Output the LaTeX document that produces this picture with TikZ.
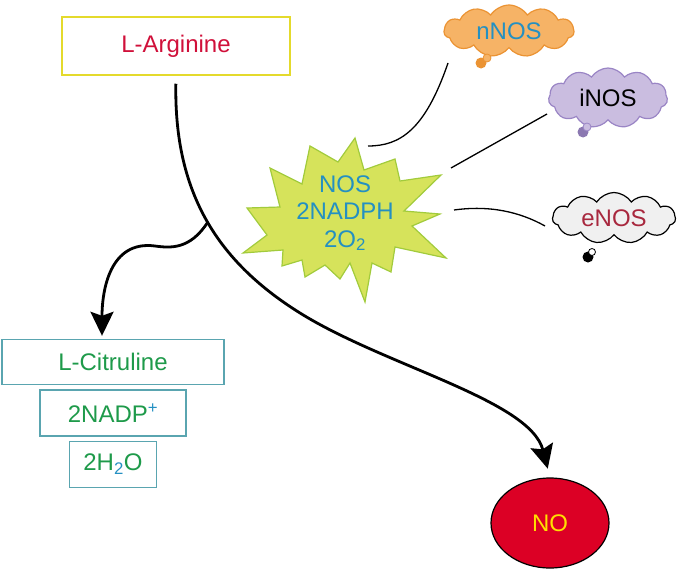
\documentclass[tikz,border=0pt]{standalone}
\usepackage{fontspec}
\setmainfont{Liberation Sans}
\usetikzlibrary{positioning,arrows.meta,shapes.geometric,shapes.symbols}

\definecolor{argred}{HTML}{D0103A}
\definecolor{argyellow}{HTML}{E4DA2C}
\definecolor{prodteal}{HTML}{5AA5B0}
\definecolor{prodgreen}{HTML}{1E9A4A}
\definecolor{nosblue}{HTML}{2490C2}
\definecolor{burstfill}{HTML}{D6E35B}
\definecolor{burstline}{HTML}{A2CB3C}
\definecolor{nfill}{HTML}{F6B366}
\definecolor{nline}{HTML}{EB9333}
\definecolor{ifill}{HTML}{CABDE0}
\definecolor{iline}{HTML}{9A85C5}
\definecolor{efill}{HTML}{F0F0F0}
\definecolor{etext}{HTML}{A8283E}
\definecolor{nored}{HTML}{DC0025}
\definecolor{noyellow}{HTML}{FFE000}

\tikzset{
  substrate/.style={draw=argyellow,line width=1.5pt,minimum width=228pt,minimum height=58pt,text=argred},
  product/.style={draw=prodteal,line width=1.4pt,text=prodgreen,minimum height=46pt,inner sep=0pt},
  isoform/.style={cloud,cloud puffs=11,cloud puff arc=115,cloud ignores aspect,inner sep=0pt,line width=1.2pt},
  flow/.style={line width=2.8pt,-{Stealth[length=24pt,width=23pt,inset=4pt]}},
  link/.style={line width=1.3pt}
}

\begin{document}
\begin{tikzpicture}[x=1pt,y=-1pt]
\fontsize{24}{27.5}\selectfont
\useasboundingbox (0,0) rectangle (677,570);
% substrate and products
\node[substrate] (arg) at (176,46) {L-Arginine};
\node[product,minimum width=222pt,minimum height=45pt] (cit) at (113,362) {L-Citruline};
\node[product,minimum width=146pt,below=4pt of cit] (nadp) {2NADP\textsuperscript{\textcolor{nosblue}{+}}};
\node[product,minimum width=87pt,below=4pt of nadp] (water) {2H\textsubscript{\textcolor{nosblue}{2}}O};
\node[ellipse,draw,line width=1.2pt,fill=nored,text=noyellow,minimum width=118pt,minimum height=90pt,inner sep=0pt] (no) at (550,523) {NO};
% enzyme burst
\filldraw[fill=burstfill,draw=burstline,line width=1.2pt]
  (355,138) -- (364,170) -- (395,159) -- (400,181) -- (441,175) -- (404,211)
  -- (440,214) -- (412,226) -- (446,258) -- (395,247) -- (391,272) -- (372,263)
  -- (365,302) -- (350,263) -- (340,279) -- (325,265) -- (305,277) -- (302,260)
  -- (282,266) -- (283,250) -- (243,253) -- (267,235) -- (247,208) -- (280,207)
  -- (270,168) -- (302,184) -- (310,146) -- (338,162) -- cycle;
\node[text=nosblue,align=center,inner sep=0pt] (nos) at (345,213) {NOS\\2NADPH\\2O\textsubscript{2}};
% isoforms
\node[isoform,fill=nfill,draw=nline,text=nosblue,minimum width=130pt,minimum height=52pt] (nnos) at (509,31) {nNOS};
\fill[nline] (481,63) circle (5.5pt);
\filldraw[fill=nfill,draw=nline,line width=0.8pt] (487,58) circle (4pt);
\node[isoform,fill=ifill,draw=iline,minimum width=119pt,minimum height=60pt] (inos) at (608,98) {iNOS};
\fill[iline!90!black] (583,132) circle (5.5pt);
\filldraw[fill=ifill,draw=iline,line width=0.8pt] (587,127) circle (4pt);
\node[isoform,fill=efill,draw=black,text=etext,minimum width=123pt,minimum height=51pt] (enos) at (614,218) {eNOS};
\fill (588,257) circle (5.5pt);
\filldraw[fill=white,draw=black,line width=0.8pt] (592,252) circle (3.5pt);
% isoform links
\coordinate (nnosend) at (448,63);
\coordinate (nosn) at (368,146);
\coordinate (inosend) at (547,114);
\coordinate (nosi) at (451,168);
\coordinate (enosend) at (545,226);
\coordinate (nose) at (454,210);
\draw[link] (nnosend) .. controls (425,130) and (400,146) .. (nosn);
\draw[link] (inosend) -- (nosi);
\draw[link] (nose) .. controls (490,205) and (520,212) .. (enosend);
% reaction
\draw[flow,shorten <=8pt,shorten >=9pt] (arg.south) .. controls (174,190) and (215,260) .. (300,313)
  coordinate[pos=0.52] (split)
  .. controls (385,366) and (530,400) .. (no.north);
\draw[flow,shorten >=3pt] (split) .. controls (190,250) and (170,248) .. (155,246)
  .. controls (110,240) and (102,290) .. ([xshift=-11pt]cit.north);
\end{tikzpicture}
\end{document}
